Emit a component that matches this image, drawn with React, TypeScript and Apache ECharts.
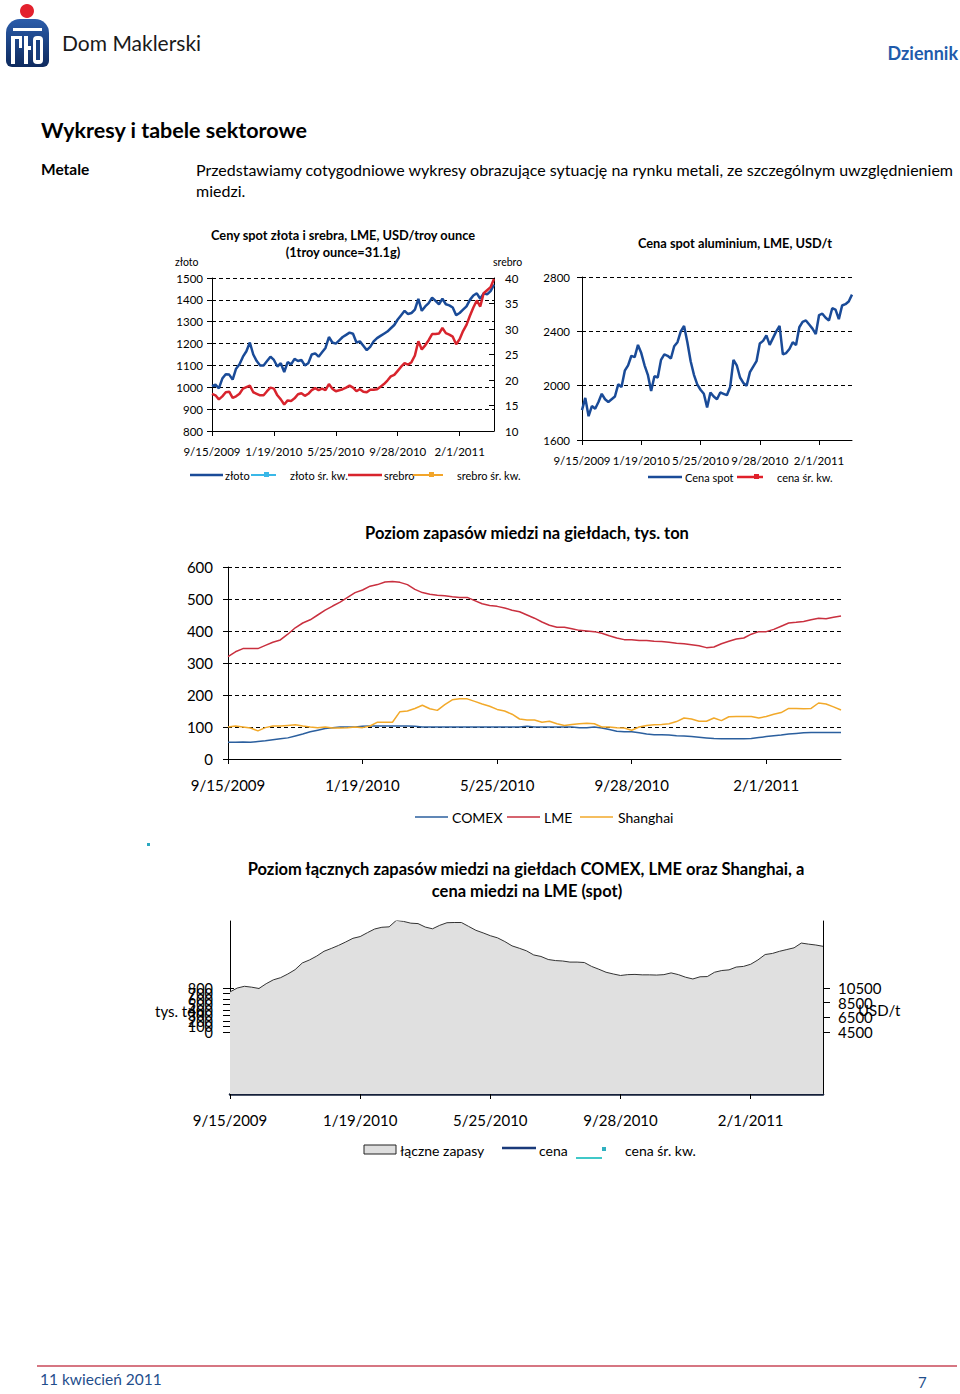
import React, { useEffect, useRef } from 'react';
import * as echarts from 'echarts';

const FONT = 'Lato, "Open Sans", sans-serif';

// weekly categories from 9/15/2009
const WEEKS = 83;
const dates: string[] = (() => {
  const out: string[] = [];
  for (let i = 0; i < WEEKS; i++) {
    const d = new Date(Date.UTC(2009, 8, 15 + 7 * i));
    out.push(`${d.getUTCMonth() + 1}/${d.getUTCDate()}/${d.getUTCFullYear()}`);
  }
  return out;
})();

const gold = [
  1005, 1012, 995, 1040, 1060, 1058, 1035, 1085, 1105, 1140,
  1165, 1205, 1150, 1120, 1100, 1100, 1120, 1140, 1125, 1095,
  1110, 1070, 1115, 1105, 1130, 1120, 1125, 1100, 1110, 1150,
  1155, 1140, 1160, 1180, 1230, 1205, 1200, 1215, 1230, 1240,
  1250, 1245, 1205, 1210, 1190, 1170, 1185, 1210, 1225, 1235,
  1245, 1255, 1270, 1285, 1310, 1330, 1350, 1335, 1340, 1355,
  1405, 1350, 1370, 1385, 1410, 1395, 1380, 1405, 1380, 1375,
  1365, 1330, 1340, 1355, 1370, 1400, 1420, 1430, 1405, 1430,
  1425, 1440, 1470,
];

const silver = [
  17.3, 17.0, 16.2, 16.8, 17.6, 17.7, 16.5, 16.8, 17.3, 18.3,
  18.6, 18.9, 17.6, 17.3, 17.0, 17.0, 17.8, 18.5, 18.3, 17.0,
  16.2, 15.2, 16.0, 15.9, 16.4, 17.2, 17.4, 16.9, 17.3, 18.0,
  18.4, 18.0, 18.3, 18.0, 19.2, 18.3, 17.8, 18.0, 18.2, 18.5,
  18.9, 18.5, 17.8, 18.2, 17.7, 17.6, 18.1, 18.1, 18.2, 18.7,
  19.2, 19.9, 20.7, 21.0, 21.8, 22.6, 23.3, 23.0, 23.5, 24.8,
  27.6, 26.0, 26.8, 27.8, 29.0, 29.0, 29.1, 30.2, 29.2, 28.9,
  28.5, 27.0, 28.0, 29.6, 30.8, 32.6, 34.2, 35.6, 34.4, 37.0,
  37.6, 38.2, 39.8,
];

const aluminium = [
  1820, 1910, 1775, 1850, 1830, 1880, 1940, 1900, 1880, 1900,
  1920, 2010, 1990, 2110, 2150, 2220, 2210, 2300, 2240, 2150,
  2080, 1960, 2070, 2060, 2190, 2230, 2220, 2200, 2290, 2320,
  2400, 2440, 2320, 2180, 2080, 2010, 1970, 1940, 1840, 1950,
  1920, 1900, 1950, 1940, 1930, 1990, 2190, 2150, 2060, 2020,
  2000, 2100, 2140, 2180, 2310, 2330, 2370, 2300, 2350, 2400,
  2440, 2230, 2240, 2270, 2320, 2300, 2430, 2470, 2480, 2450,
  2420, 2380, 2520, 2530, 2500, 2480, 2570, 2560, 2490, 2590,
  2600, 2620, 2670,
];

const comex = [
  52, 52, 53, 52, 55, 57, 60, 63, 66, 72,
  78, 85, 90, 95, 98, 100, 100, 100, 102, 103,
  103, 103, 103, 103, 103, 102, 100, 100, 100, 100,
  100, 100, 100, 100, 100, 100, 100, 100, 100, 100,
  102, 100, 100, 100, 100, 100, 100, 98, 98, 100,
  97, 92, 87, 85, 85, 82, 78, 76, 76, 75,
  73, 72, 70, 68, 66, 64, 63, 63, 63, 63,
  64, 67, 70, 73, 75, 78, 80, 82, 83, 83,
  83, 83, 83,
];

const lme = [
  320, 335, 345, 345, 345, 355, 365, 372, 390, 410,
  425, 435, 450, 465, 478, 490, 505, 520, 528, 540,
  545, 553, 555, 552, 545, 530, 520, 515, 512, 510,
  507, 505, 505, 495, 485, 480, 477, 472, 465, 460,
  450, 440, 428, 418, 412, 412, 407, 402, 400, 398,
  393, 385, 378, 373, 373, 370, 370, 368, 367, 365,
  362, 360, 357, 354, 348, 350, 360, 368, 375, 378,
  390, 398, 398, 405, 415, 425, 427, 430, 435, 440,
  438, 443, 447,
];

const shanghai = [
  100, 103, 100, 97, 88, 98, 103, 103, 105, 107,
  103, 100, 98, 100, 97, 97, 98, 100, 98, 103,
  115, 115, 115, 148, 150, 158, 168, 157, 152, 170,
  185, 188, 188, 180, 172, 165, 155, 150, 140, 125,
  122, 122, 115, 118, 110, 105, 108, 110, 112, 110,
  100, 100, 98, 97, 90, 100, 105, 107, 108, 110,
  117, 128, 125, 118, 118, 128, 120, 132, 133, 133,
  133, 128, 133, 140, 145, 158, 158, 157, 158, 175,
  172, 163, 153,
];

const totalStocks = [
  472, 490, 498, 494, 488, 510, 528, 538, 555, 575,
  606, 620, 638, 660, 673, 687, 703, 720, 728, 746,
  763, 771, 773, 803, 798, 790, 788, 772, 764, 780,
  792, 793, 793, 775, 757, 745, 732, 722, 705, 685,
  674, 662, 643, 636, 622, 617, 615, 610, 610, 608,
  590, 577, 563, 555, 548, 552, 553, 551, 551, 550,
  552, 560, 552, 540, 532, 542, 543, 563, 571, 574,
  587, 590, 600, 620, 645, 650, 660, 668, 676, 698,
  693, 689, 683,
];

// tick labels of the (squeezed) axes of the last chart
const stockAxisTicks = [0, 100, 200, 300, 400, 500, 600, 700, 800];
const priceAxisLabels = ['4500', '6500', '8500', '10500'];

const BLACK = '#000';
const dashed = { show: true, lineStyle: { color: BLACK, type: [4, 3] as any, width: 1 } };
const plain = (v: number) => String(v);

function App() {
  const ref = useRef<HTMLDivElement>(null);

  useEffect(() => {
    if (!ref.current) return;
    const chart = echarts.init(ref.current, undefined, { renderer: 'svg' });

    const txt = (x: number, y: number, text: string, size: number, opts: any = {}) => ({
      type: 'text',
      x,
      y,
      silent: true,
      style: {
        text,
        fill: opts.fill || '#000',
        fontSize: size,
        fontWeight: opts.bold ? 'bold' : 'normal',
        fontFamily: FONT,
        align: opts.align || 'left',
        textAlign: opts.align || 'left',
        verticalAlign: 'middle',
        textVerticalAlign: 'middle',
      },
    });
    const ln = (x1: number, y1: number, x2: number, y2: number, color: string, width: number) => ({
      type: 'line',
      silent: true,
      shape: { x1, y1, x2, y2 },
      style: { stroke: color, lineWidth: width },
    });
    const box = (x: number, y: number, w: number, h: number, fill: any, stroke?: string, r?: any) => ({
      type: 'rect',
      silent: true,
      shape: { x, y, width: w, height: h, r: r || 0 },
      style: { fill, stroke: stroke || null, lineWidth: stroke ? 1 : 0 },
    });

    const graphics: any[] = [
      // logo
      box(6, 19, 43, 48, new (echarts as any).graphic.LinearGradient(0, 0, 0, 1, [
        { offset: 0, color: '#2b5caa' },
        { offset: 1, color: '#0e2a5e' },
      ]), undefined, [14, 14, 6, 6]),
      { type: 'circle', silent: true, shape: { cx: 27, cy: 11, r: 7 }, style: { fill: '#e3212d' } },
      box(13, 28, 29, 3, '#fff'),
      box(11, 36, 4, 28, '#fff'),
      box(15, 36, 6, 3, '#fff'),
      box(19, 36, 3, 12, '#fff'),
      box(24, 36, 4, 28, '#fff'),
      box(28, 46, 3, 4, '#fff'),
      box(33, 36, 10, 28, '#fff', undefined, 4),
      box(36, 40, 4, 20, '#183f80'),
      txt(62, 42, 'Dom Maklerski', 21, { fill: '#1a1a1a' }),
      txt(958, 53, 'Dziennik', 18, { bold: true, fill: '#1f5bab', align: 'right' }),

      txt(41, 130, 'Wykresy i tabele sektorowe', 21.5, { bold: true }),
      txt(41, 169, 'Metale', 15.5, { bold: true }),
      txt(196, 169, 'Przedstawiamy cotygodniowe wykresy obrazujące sytuację na rynku metali, ze szczególnym uwzględnieniem', 16),
      txt(196, 190, 'miedzi.', 16),

      // chart 1 texts
      txt(343, 235, 'Ceny spot złota i srebra, LME, USD/troy ounce', 12.8, { bold: true, align: 'center' }),
      txt(343, 252, '(1troy ounce=31.1g)', 12.8, { bold: true, align: 'center' }),
      txt(175, 262, 'złoto', 10.5),
      txt(493, 262, 'srebro', 10.5),
      ln(190, 475, 223, 475, '#1a4b98', 2.5),
      txt(225, 475, 'złoto', 11),
      ln(251, 475, 276, 475, '#3ab8e8', 2),
      box(264, 472, 5, 5, '#3ab8e8'),
      txt(290, 475, 'złoto śr. kw.', 11),
      ln(348, 475, 382, 475, '#d8242d', 2.5),
      txt(384, 475, 'srebro', 11),
      ln(413, 475, 443, 475, '#f2a52a', 2),
      box(429, 472, 5, 5, '#f2a52a'),
      txt(457, 475, 'srebro śr. kw.', 11),

      // chart 2 texts
      txt(735, 243, 'Cena spot aluminium, LME, USD/t', 12.8, { bold: true, align: 'center' }),
      ln(648, 477, 682, 477, '#1a4b98', 2.5),
      txt(685, 477, 'Cena spot', 11),
      ln(737, 477, 763, 477, '#e0202a', 2.5),
      box(754, 474, 5, 5, '#e0202a'),
      txt(777, 477, 'cena śr. kw.', 11),

      // chart 3 texts
      txt(527, 533, 'Poziom zapasów miedzi na giełdach, tys. ton', 16.5, { bold: true, align: 'center' }),
      ln(415, 817, 448, 817, '#2b5f9e', 1.5),
      txt(452, 817, 'COMEX', 14),
      ln(507, 817, 540, 817, '#c9303f', 1.5),
      txt(544, 817, 'LME', 14),
      ln(580, 817, 613, 817, '#f2a92a', 1.5),
      txt(618, 817, 'Shanghai', 14),

      box(147, 843, 3, 3, '#2aa8c0'),

      // chart 4 texts
      txt(526, 869, 'Poziom łącznych zapasów miedzi na giełdach COMEX, LME oraz Shanghai, a', 16.5, { bold: true, align: 'center' }),
      txt(527, 891, 'cena miedzi na LME (spot)', 16.5, { bold: true, align: 'center' }),
      txt(155, 1011, 'tys. ton', 15),
      txt(858, 1010, 'USD/t', 15),
      box(364, 1145, 32, 9, '#dedede', '#222'),
      txt(400, 1150, 'łączne zapasy', 14),
      ln(502, 1148, 536, 1148, '#1a3a7a', 2.5),
      txt(539, 1150, 'cena', 14),
      ln(576, 1158, 602, 1158, '#40c8c8', 2),
      box(602, 1147, 4, 4, '#30b0c0'),
      txt(625, 1150, 'cena śr. kw.', 14),

      // footer
      ln(37, 1366, 957, 1366, '#c84858', 1.5),
      txt(40, 1379, '11 kwiecień 2011', 15.5, { fill: '#1f4e8c' }),
      txt(918, 1382, '7', 15, { fill: '#1f4e8c' }),
    ];

    const mkX = (gridIndex: number, fontSize: number, margin: number, extra: any = {}) => ({
      type: 'category',
      gridIndex,
      data: dates,
      boundaryGap: false,
      axisLine: { show: true, onZero: false, lineStyle: { color: BLACK, width: 1 } },
      axisTick: { show: true, interval: 17, length: 5, lineStyle: { color: BLACK } },
      axisLabel: { interval: 17, fontSize, margin, color: BLACK, fontFamily: FONT },
      splitLine: { show: false },
      ...extra,
    });

    const mkY = (gridIndex: number, position: string, extra: any) => ({
      type: 'value',
      gridIndex,
      position,
      axisLine: { show: true, lineStyle: { color: BLACK, width: 1 } },
      axisTick: { show: true, length: 5, lineStyle: { color: BLACK } },
      splitLine: { show: false },
      ...extra,
    });

    const lbl = (fontSize: number, margin: number, extra: any = {}) => ({
      fontSize, margin, color: BLACK, fontFamily: FONT, formatter: plain,
      showMinLabel: true, showMaxLabel: true, hideOverlap: false, ...extra,
    });

    // the squeezed axes of chart 4: their labels overlap in the reference, so they are
    // spread over several stacked copies of the same axis (each copy shows labels that do not collide)
    const squeezedLeft = [0, 1, 2, 3].map((k) => {
      const shown = stockAxisTicks.filter((_, i) => i % 4 === k);
      return mkY(4, 'left', {
        min: 0, max: 800, interval: 100,
        axisTick: { show: k === 0, length: 7, lineStyle: { color: BLACK } },
        axisLabel: lbl(14.5, 17, {
          formatter: (v: number) => (shown.includes(v) ? String(v) : ''),
        }),
        splitLine: k === 0 ? dashed : { show: false },
      });
    });
    const squeezedRight = [0, 1].map((k) =>
      mkY(4, 'right', {
        min: 0, max: 3, interval: 1,
        axisTick: { show: k === 0, length: 7, lineStyle: { color: BLACK } },
        axisLabel: lbl(15, 15, {
          formatter: (v: number) => (v % 2 === k ? priceAxisLabels[v] ?? '' : ''),
        }),
      })
    );

    const gridBase = { outerBoundsMode: 'none', containLabel: false };

    const option: any = {
      animation: false,
      backgroundColor: '#fff',
      textStyle: { fontFamily: FONT },
      grid: [
        { ...gridBase, left: 212, top: 278, width: 282, height: 153 },
        { ...gridBase, left: 582, top: 277, width: 270, height: 163 },
        { ...gridBase, left: 228, top: 567, width: 613, height: 192 },
        { ...gridBase, left: 230, top: 921, width: 593, height: 173 },
        { ...gridBase, left: 230, top: 988, width: 593, height: 44 },
      ],
      xAxis: [
        mkX(0, 11.5, 14),
        mkX(1, 11.5, 14),
        mkX(2, 15, 18),
        mkX(3, 15, 18, { axisLine: { show: true, onZero: false, lineStyle: { color: '#15203a', width: 2.5 } } }),
        mkX(4, 12, 8, { show: false }),
      ],
      yAxis: [
        mkY(0, 'left', {
          min: 800, max: 1500, interval: 100,
          axisLabel: lbl(11.5, 9),
          splitLine: dashed,
        }),
        mkY(0, 'right', {
          min: 10, max: 40, interval: 5,
          axisTick: { show: true, inside: true, length: 5, lineStyle: { color: BLACK } },
          axisLabel: lbl(11.5, 11),
        }),
        mkY(1, 'left', {
          min: 1600, max: 2800, interval: 400,
          axisLabel: lbl(11.5, 12),
          splitLine: dashed,
        }),
        mkY(2, 'left', {
          min: 0, max: 600, interval: 100,
          axisLabel: lbl(15, 15),
          splitLine: dashed,
        }),
        mkY(3, 'left', {
          min: 0, max: 800, interval: 100,
          axisTick: { show: false },
          axisLabel: { show: false },
        }),
        mkY(3, 'right', {
          min: 0, max: 800, interval: 100,
          axisTick: { show: false },
          axisLabel: { show: false },
        }),
        ...squeezedLeft,
        ...squeezedRight,
      ],
      series: [
        {
          name: 'złoto', type: 'line', xAxisIndex: 0, yAxisIndex: 0, data: gold,
          showSymbol: false, lineStyle: { color: '#1a4b98', width: 2.5 }, itemStyle: { color: '#1a4b98' },
        },
        {
          name: 'srebro', type: 'line', xAxisIndex: 0, yAxisIndex: 1, data: silver,
          showSymbol: false, lineStyle: { color: '#d8242d', width: 2.5 }, itemStyle: { color: '#d8242d' },
        },
        {
          name: 'Cena spot', type: 'line', xAxisIndex: 1, yAxisIndex: 2, data: aluminium,
          showSymbol: false, lineStyle: { color: '#1a4b98', width: 2.5 }, itemStyle: { color: '#1a4b98' },
        },
        {
          name: 'COMEX', type: 'line', xAxisIndex: 2, yAxisIndex: 3, data: comex,
          showSymbol: false, lineStyle: { color: '#2b5f9e', width: 1.5 }, itemStyle: { color: '#2b5f9e' },
        },
        {
          name: 'LME', type: 'line', xAxisIndex: 2, yAxisIndex: 3, data: lme,
          showSymbol: false, lineStyle: { color: '#c9303f', width: 1.5 }, itemStyle: { color: '#c9303f' },
        },
        {
          name: 'Shanghai', type: 'line', xAxisIndex: 2, yAxisIndex: 3, data: shanghai,
          showSymbol: false, lineStyle: { color: '#f2a92a', width: 1.5 }, itemStyle: { color: '#f2a92a' },
        },
        {
          name: 'łączne zapasy', type: 'line', xAxisIndex: 3, yAxisIndex: 4, data: totalStocks,
          showSymbol: false, lineStyle: { color: '#333', width: 1 }, itemStyle: { color: '#333' },
          areaStyle: { color: '#e0e0e0', opacity: 1 },
        },
      ],
      graphic: { elements: graphics },
    };

    chart.setOption(option);
    return () => chart.dispose();
  }, []);

  return (
    <div
      ref={ref}
      style={{ position: 'absolute', left: 0, top: 0, width: 960, height: 1394, background: '#fff' }}
    />
  );
}

export default App;
